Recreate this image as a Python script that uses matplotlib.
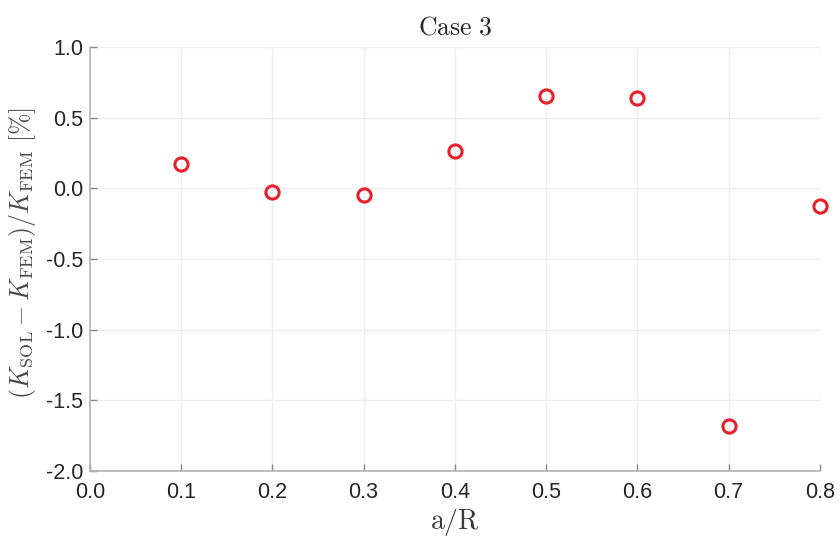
import matplotlib
matplotlib.use("Agg")
import matplotlib.pyplot as plt

# values
a_over_r = [0.1, 0.2, 0.3, 0.4, 0.5, 0.6, 0.7, 0.8]
rel_error = [0.17, -0.03, -0.05, 0.26, 0.65, 0.64, -1.68, -0.125]

x_ticks = [0.0, 0.1, 0.2, 0.3, 0.4, 0.5, 0.6, 0.7, 0.8]
y_ticks = [-2.0, -1.5, -1.0, -0.5, 0.0, 0.5, 1.0]

plt.rcParams["mathtext.fontset"] = "cm"
plt.rcParams["font.family"] = ["Liberation Sans", "DejaVu Sans"]

fig = plt.figure(figsize=(8.4, 5.38), dpi=100)
ax = fig.add_axes([0.107, 0.1245, 0.869, 0.7885])

ax.plot(a_over_r, rel_error, linestyle="none", marker="o", markersize=9.5,
        markerfacecolor="none", markeredgecolor="#e8202a", markeredgewidth=2.2,
        clip_on=False, zorder=3)

ax.set_xlim(0.0, 0.8)
ax.set_ylim(-2.0, 1.0)
ax.set_xticks(x_ticks)
ax.set_yticks(y_ticks)
ax.set_xticklabels([f"{t:.1f}" for t in x_ticks])
ax.set_yticklabels([f"{t:.1f}" for t in y_ticks])

ax.grid(True, color="#ededed", linewidth=1.0)
ax.set_axisbelow(True)

for side in ["top", "right"]:
    ax.spines[side].set_visible(False)
for side in ["left", "bottom"]:
    ax.spines[side].set_color("#b4b4b4")
    ax.spines[side].set_linewidth(1.2)

ax.tick_params(direction="in", length=5, width=1, color="#8a8a8a",
               labelsize=15.5, labelcolor="#262626")
ax.tick_params(axis="x", pad=8)
ax.tick_params(axis="y", pad=5)

ax.set_title(r"$\mathrm{Case\ 3}$", fontsize=18.5, color="#262626", pad=9)
ax.set_xlabel(r"$\mathrm{a/R}$", fontsize=20, color="#3a3a3a", labelpad=3)
ax.set_ylabel(r"$(K_\mathrm{SOL}-K_\mathrm{FEM})/K_\mathrm{FEM}\ \mathrm{[\%]}$",
              fontsize=18.6, color="#4a4a4a")
ax.yaxis.set_label_coords(-0.071, 0.514)

fig.savefig("out.png", dpi=100)
